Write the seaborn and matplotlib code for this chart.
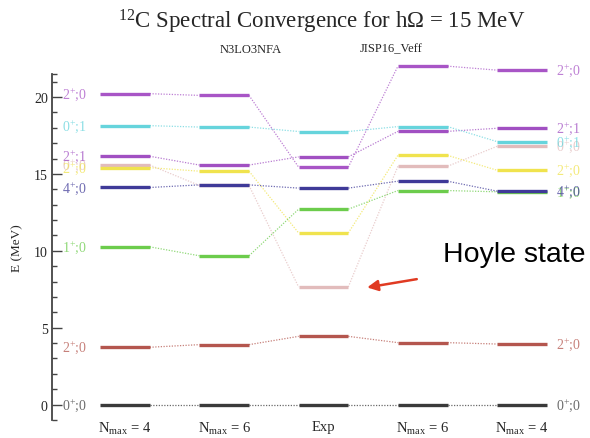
import matplotlib
matplotlib.use("Agg")
import matplotlib.pyplot as plt
import pandas as pd
import seaborn as sns

# Calculation / experiment columns, left to right
columns = ["N$_{\\mathrm{max}}$ = 4", "N$_{\\mathrm{max}}$ = 6", "Exp",
           "N$_{\\mathrm{max}}$ = 6", "N$_{\\mathrm{max}}$ = 4"]

# Excitation energies (MeV) of each state in every column
e_0p0_gs = [0.00, 0.00, 0.00, 0.00, 0.00]
e_2p0_1 = [3.73, 3.90, 4.44, 4.03, 3.94]
e_0p0_2 = [15.58, 14.25, 7.65, 15.50, 16.80]   # Hoyle state
e_2p0_2 = [15.41, 15.18, 11.16, 16.21, 15.24]
e_1p0 = [10.26, 9.68, 12.71, 13.92, 13.84]
e_4p0 = [14.12, 14.29, 14.08, 14.53, 13.88]
e_2p1 = [16.15, 15.58, 16.11, 17.77, 17.97]
e_0p1 = [18.14, 18.05, 17.76, 18.08, 17.10]
e_2p0_3 = [20.22, 20.11, 15.44, 22.01, 21.75]

# (key, J^pi;T label, colour, energies) in drawing order
states = [
    ("0+0 gs", "0$^{+}$;0", "#3a3a3a", e_0p0_gs),
    ("2+0 a", "2$^{+}$;0", "#b4564e", e_2p0_1),
    ("0+0 b", "0$^{+}$;0", "#e2bcbc", e_0p0_2),
    ("2+0 b", "2$^{+}$;0", "#f0e34e", e_2p0_2),
    ("1+0", "1$^{+}$;0", "#6ccc4c", e_1p0),
    ("4+0", "4$^{+}$;0", "#3f3a98", e_4p0),
    ("2+1", "2$^{+}$;1", "#a150c2", e_2p1),
    ("0+1", "0$^{+}$;1", "#66d4dc", e_0p1),
    ("2+0 c", "2$^{+}$;0", "#a855c6", e_2p0_3),
]

HALF = 0.25  # half width of a level bar, in column units

bar_rows, link_rows = [], []
for key, _, _, vals in states:
    for i, v in enumerate(vals):
        bar_rows += [dict(state=key, unit=f"{key}-{i}", x=i - HALF, E=v),
                     dict(state=key, unit=f"{key}-{i}", x=i + HALF, E=v)]
    for i in range(len(vals) - 1):
        link_rows += [dict(state=key, unit=f"{key}-{i}", x=i + HALF, E=vals[i]),
                      dict(state=key, unit=f"{key}-{i}", x=i + 1 - HALF, E=vals[i + 1])]
bars = pd.DataFrame(bar_rows)
links = pd.DataFrame(link_rows)
palette = {key: col for key, _, col, _ in states}
order = [key for key, _, _, _ in states]

sns.set_style("ticks")
plt.rcParams["font.family"] = ["Liberation Serif", "DejaVu Serif"]
plt.rcParams["mathtext.fontset"] = "custom"
plt.rcParams["mathtext.rm"] = "Liberation Serif"
plt.rcParams["mathtext.it"] = "Liberation Serif:italic"

Y0, Y1 = -1.0, 21.5
fig = plt.figure(figsize=(5.90, 4.39), dpi=100)
ax = fig.add_axes([52 / 590, 1 - 421 / 439, (585 - 52) / 590, (421 - 75) / 439])

sns.lineplot(data=links, x="x", y="E", hue="state", hue_order=order, units="unit",
             estimator=None, palette=palette, legend=False, ax=ax,
             linestyle=(0, (1, 1.2)), linewidth=0.9, alpha=0.75, sort=False)
sns.lineplot(data=bars, x="x", y="E", hue="state", hue_order=order, units="unit",
             estimator=None, palette=palette, legend=False, ax=ax,
             linewidth=2.4, solid_capstyle="butt", sort=False)
for ln in ax.lines:
    ln.set_clip_on(False)

# State labels at both ends of the diagram
for key, lab, col, vals in states:
    ax.text(-0.63, vals[0], lab, color=col, alpha=0.75, fontsize=10,
            ha="left", va="center")
    ax.text(4.34, vals[-1], lab, color=col, alpha=0.75, fontsize=10,
            ha="left", va="center", clip_on=False)

ax.set_xlim(-0.735, 4.635)
ax.set_ylim(Y0, Y1)
ax.set_xticks(range(len(columns)))
ax.set_xticklabels(columns, fontsize=10.5)
ax.tick_params(axis="x", length=0, pad=0)
ax.set_yticks([0, 5, 10, 15, 20])
ax.set_yticks(list(range(-1, 22)) + [Y1], minor=True)
ax.tick_params(axis="y", which="major", direction="in", length=7, width=1,
               color="#444444", labelsize=10, pad=3)
ax.tick_params(axis="y", which="minor", direction="in", length=3.5, width=1,
               color="#444444")
ax.set_ylabel("E (MeV)", fontsize=9.5, labelpad=8)
ax.set_xlabel("")
for side in ("top", "right", "bottom"):
    ax.spines[side].set_visible(False)
ax.spines["left"].set_color("#444444")
ax.spines["left"].set_linewidth(1.3)

fig.text(322 / 590, 1 - 22 / 439, "$^{12}$C Spectral Convergence for h\u03a9 = 15 MeV",
         ha="center", va="center", fontsize=16.5)
fig.text(251 / 590, 1 - 50 / 439, "N3LO3NFA", ha="center", va="center", fontsize=9)
fig.text(391 / 590, 1 - 49 / 439, "JISP16_Veff", ha="center", va="center", fontsize=9)

ax.annotate("", xy=(2.44, 7.62), xytext=(2.94, 8.16),
            arrowprops=dict(arrowstyle="-|>", color="#e03a22", lw=1.8,
                            mutation_scale=16, shrinkA=0, shrinkB=0))
ax.text(3.20, 9.31, "Hoyle state", fontsize=20.5, family="Liberation Sans",
        ha="left", va="baseline", color="black")

fig.savefig("out.png", dpi=100)
